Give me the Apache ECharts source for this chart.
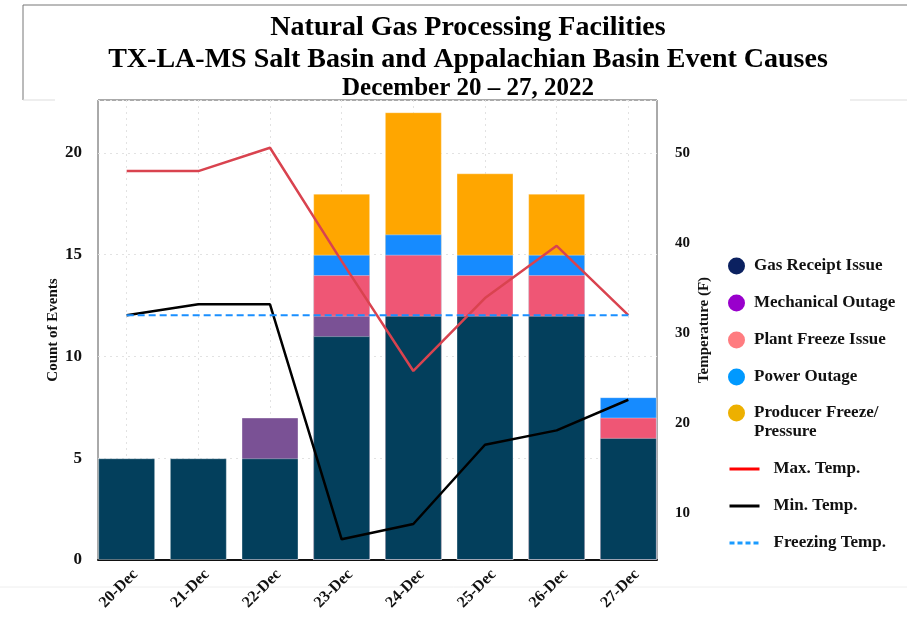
<!DOCTYPE html>
<html><head><meta charset="utf-8">
<script src="https://cdn.jsdelivr.net/npm/echarts@6/dist/echarts.min.js"></script>
<style>html,body{margin:0;padding:0;background:#fff}#c{width:907px;height:617px}</style>
</head><body><div id="c"></div>
<script>
const categories = ['20-Dec','21-Dec','22-Dec','23-Dec','24-Dec','25-Dec','26-Dec','27-Dec'];
const gasReceipt = [5,5,5,11,12,12,12,6];
const mechanical = [0,0,2,1,0,0,0,0];
const plantFreeze = [0,0,0,2,3,2,2,1];
const powerOutage = [0,0,0,1,1,1,1,1];
const producerFreeze = [0,0,0,3,6,4,3,0];
const maxTemp = [48,48,50.6,38,25.8,33.9,39.7,32];
const minTemp = [32,33.2,33.2,7.1,8.8,17.6,19.2,22.6];
const freezingTemp = [32,32,32,32,32,32,32,32];
const countTicks = [0,5,10,15,20];
const tempTicks = [10,20,30,40,50];

const FONT = 'Liberation Serif';
const barDefs = [
  {name:'Gas Receipt Issue', data:gasReceipt, color:'#033f5c', legend:'#0b2160'},
  {name:'Mechanical Outage', data:mechanical, color:'#7a5195', legend:'#9900cc'},
  {name:'Plant Freeze Issue', data:plantFreeze, color:'#ef5675', legend:'#ff7c80'},
  {name:'Power Outage', data:powerOutage, color:'#168bff', legend:'#0099ff'},
  {name:'Producer Freeze/\nPressure', data:producerFreeze, color:'#ffa600', legend:'#edb000'}
];
// cumulative tops (overlapping bars, tallest drawn first)
const cum = [];
let run = categories.map(() => 0);
barDefs.forEach(d => { run = run.map((v, i) => v + d.data[i]); cum.push(run.slice()); });
const idx = categories.map((c, i) => i);

const barSeries = barDefs.map((d, k) => ({
  name: d.name, type: 'bar', xAxisIndex: 0, yAxisIndex: 0,
  barWidth: 57, barGap: '-100%',
  itemStyle: {color: d.color, borderColor: 'rgba(255,255,255,0.35)', borderWidth: 1},
  data: idx.map(i => d.data[i] === 0 ? null : [i, cum[k][i]])
})).reverse();

const lineDefs = [
  {name:'Max. Temp.', data:maxTemp, color:'#d9434f', type:'solid', width:2.5, legend:'#ff0000'},
  {name:'Min. Temp.', data:minTemp, color:'#000000', type:'solid', width:2.5, legend:'#000000'},
  {name:'Freezing Temp.', data:freezingTemp, color:'#1a8fff', type:[7,4], width:2, legend:'#1a9bff'}
];
const lineSeries = lineDefs.map(d => ({
  name: d.name, type: 'line', xAxisIndex: 0, yAxisIndex: 1, symbol: 'none', z: 5,
  lineStyle: {color: d.color, width: d.width, type: d.type}, itemStyle: {color: d.color},
  data: idx.map(i => [i, d.data[i]])
}));

const legendTextStyle = {fontFamily: FONT, fontWeight: 'bold', fontSize: 17, color: '#111', lineHeight: 19, padding: [0,0,0,4]};
const circleLegend = (items, top, fmt) => ({
  orient: 'vertical', left: 728, top: top, padding: 0, itemWidth: 17, itemHeight: 17, itemGap: 18,
  icon: 'circle', selectedMode: false, formatter: fmt,
  textStyle: legendTextStyle,
  data: items.map(d => ({name: d.name, itemStyle: {color: d.legend, borderWidth: 0}}))
});

const option = {
  animation: false,
  backgroundColor: '#fff',
  title: {
    text: 'Natural Gas Processing Facilities\nTX-LA-MS Salt Basin and Appalachian Basin Event Causes',
    subtext: 'December 20 \u2013 27, 2022',
    left: 468, top: 12, padding: 0, textAlign: 'center', itemGap: 0,
    textStyle: {fontFamily: FONT, fontWeight: 'bold', fontSize: 28, lineHeight: 32, color: '#000'},
    subtextStyle: {fontFamily: FONT, fontWeight: 'bold', fontSize: 25, lineHeight: 26, color: '#000'}
  },
  graphic: [
    {type: 'polyline', shape: {points: [[23,100],[23,5],[907,5]]}, style: {stroke: '#777', lineWidth: 1, fill: null}, silent: true},
    {type: 'line', shape: {x1: 23, y1: 100, x2: 55, y2: 100}, style: {stroke: '#ddd', lineWidth: 1}, silent: true},
    {type: 'line', shape: {x1: 850, y1: 100, x2: 907, y2: 100}, style: {stroke: '#ddd', lineWidth: 1}, silent: true},
    {type: 'line', shape: {x1: 0, y1: 587, x2: 907, y2: 587}, style: {stroke: '#eee', lineWidth: 1}, silent: true}
  ],
  legend: [
    circleLegend(barDefs.slice(0, 4), 256.5),
    circleLegend(barDefs.slice(4), 384.5, name => ' \n' + name),
    {
      orient: 'vertical', left: 728, top: 459.5, padding: 0, itemWidth: 30, itemHeight: 18, itemGap: 18,
      selectedMode: false, textStyle: Object.assign({}, legendTextStyle, {padding: [0,0,0,9]}),
      data: lineDefs.map(d => ({name: d.name,
        lineStyle: {color: d.legend, width: 3, type: d.type === 'solid' ? 'solid' : [5,3]},
        itemStyle: {color: d.legend, opacity: 0}}))
    }
  ],
  grid: {left: 98, right: 250, top: 100, bottom: 57, show: true, borderColor: '#555', borderWidth: 1, backgroundColor: 'transparent'},
  xAxis: {
    type: 'value', min: -0.4, max: 7.4,
    axisLine: {show: true, lineStyle: {color: '#111', width: 2}},
    axisTick: {show: false, customValues: idx},
    splitLine: {show: true, lineStyle: {color: '#e2e2e2', type: [2,4], width: 1}},
    axisLabel: {
      customValues: idx.map(i => i + 0.12), rotate: 45, margin: 12,
      formatter: v => categories[Math.round(v)],
      fontFamily: FONT, fontWeight: 'bold', fontSize: 16, color: '#111'
    }
  },
  yAxis: [
    {
      type: 'value', min: 0, max: 22.6, interval: 5, position: 'left',
      name: 'Count of Events', nameLocation: 'middle', nameRotate: 90, nameGap: 37, nameMoveOverlap: false,
      nameTextStyle: {fontFamily: FONT, fontWeight: 'bold', fontSize: 15, color: '#111'},
      axisLine: {show: false}, axisTick: {show: false},
      axisLabel: {margin: 16, fontFamily: FONT, fontWeight: 'bold', fontSize: 17, color: '#111',
        customValues: countTicks},
      splitLine: {show: true, lineStyle: {color: '#e2e2e2', type: [2,4], width: 1}}
    },
    {
      type: 'value', min: 4.8, max: 55.9, position: 'right',
      name: 'Temperature (F)', nameLocation: 'middle', nameRotate: 90, nameGap: 40, nameMoveOverlap: false,
      nameTextStyle: {fontFamily: FONT, fontWeight: 'bold', fontSize: 15, color: '#111'},
      axisLine: {show: false}, axisTick: {show: false},
      axisLabel: {customValues: tempTicks, margin: 18, fontFamily: FONT, fontWeight: 'bold', fontSize: 15, color: '#111'},
      splitLine: {show: false}
    }
  ],
  series: barSeries.concat(lineSeries)
};
const chart = echarts.init(document.getElementById('c'), null, {renderer: 'canvas'});
chart.setOption(option);
</script></body></html>
